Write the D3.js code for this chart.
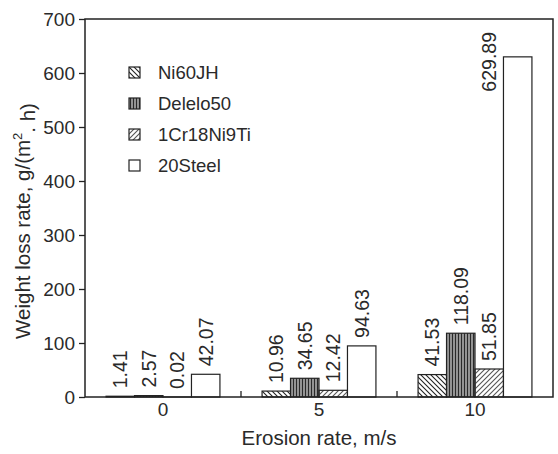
<!DOCTYPE html>
<html lang="en">
<head>
<meta charset="utf-8">
<title>Weight loss rate vs erosion rate</title>
<script src="https://d3js.org/d3.v7.min.js"></script>
<style>
    body { margin: 0; background: #fff; }
    text { font-family: "Liberation Sans", Arial, sans-serif; fill: #2a2a2a; }
</style>
</head>
<body>
<svg id="chart" width="558" height="454"></svg>
<script>
    // data
    var categories = ["0", "5", "10"];
    var seriesNames = ["Ni60JH", "Delelo50", "1Cr18Ni9Ti", "20Steel"];
    var ni60jh = [1.41, 10.96, 41.53];
    var delelo50 = [2.57, 34.65, 118.09];
    var cr18ni9ti = [0.02, 12.42, 51.85];
    var steel20 = [42.07, 94.63, 629.89];
    var yTicks = [0, 100, 200, 300, 400, 500, 600, 700];

    var seriesValues = [ni60jh, delelo50, cr18ni9ti, steel20];
    var fills = ["url(#hatchBack)", "url(#vlines)", "url(#hatchFwd)", "#fff"];

    var margin = {top: 19, right: 5, bottom: 57, left: 85},
        width = 558 - margin.left - margin.right,
        height = 454 - margin.top - margin.bottom;

    var svg = d3.select("#chart");

    // fill patterns
    var defs = svg.append("defs");
    defs.append("pattern")
        .attr("id", "hatchBack")
        .attr("patternUnits", "userSpaceOnUse")
        .attr("width", 5).attr("height", 5)
      .append("path")
        .attr("d", "M0,0 L5,5 M-1,4 L1,6 M4,-1 L6,1")
        .attr("stroke", "#222").attr("stroke-width", 1.1);
    var vp = defs.append("pattern")
        .attr("id", "vlines")
        .attr("patternUnits", "userSpaceOnUse")
        .attr("width", 3).attr("height", 3);
    vp.append("rect").attr("width", 3).attr("height", 3).attr("fill", "#a0a0a0");
    vp.append("path").attr("d", "M1.5,0 L1.5,3").attr("stroke", "#2a2a2a").attr("stroke-width", 1.2);
    defs.append("pattern")
        .attr("id", "hatchFwd")
        .attr("patternUnits", "userSpaceOnUse")
        .attr("width", 5).attr("height", 5)
      .append("path")
        .attr("d", "M0,5 L5,0 M-1,1 L1,-1 M4,6 L6,4")
        .attr("stroke", "#555").attr("stroke-width", 1.1);

    var g = svg.append("g")
        .attr("transform", "translate(" + margin.left + "," + margin.top + ")");

    // scales
    var x0 = d3.scaleBand()
        .domain(categories)
        .range([0, width])
        .padding(0);
    var x1 = d3.scaleBand()
        .domain(seriesNames)
        .range([0, x0.bandwidth()])
        .paddingInner(0)
        .paddingOuter(0.74);
    var y = d3.scaleLinear()
        .domain([0, 700])
        .range([height, 0]);

    // Y axis
    var yAxis = g.append("g")
        .call(d3.axisLeft(y).tickValues(yTicks).tickSize(6).tickPadding(4));
    yAxis.select(".domain").remove();
    yAxis.selectAll("line").attr("stroke", "#222").attr("stroke-width", 1.3);
    yAxis.selectAll("text").style("font-size", "19px");

    // X axis labels
    var xAxis = g.append("g")
        .attr("transform", "translate(0," + height + ")")
        .call(d3.axisBottom(x0).tickSize(0).tickPadding(6));
    xAxis.select(".domain").remove();
    xAxis.selectAll("text").style("font-size", "19px");

    // inner ticks at the group boundaries
    g.selectAll(".sep")
        .data(categories.slice(1))
        .enter()
        .append("line")
        .attr("x1", function(d) { return x0(d); })
        .attr("x2", function(d) { return x0(d); })
        .attr("y1", height)
        .attr("y2", height - 6)
        .attr("stroke", "#222")
        .attr("stroke-width", 1.3);

    // bars
    var rows = [];
    categories.forEach(function(c, i) {
        seriesNames.forEach(function(s, j) {
            rows.push({cat: c, series: s, j: j, value: seriesValues[j][i]});
        });
    });

    g.selectAll(".bar")
        .data(rows)
        .enter()
        .append("rect")
        .attr("x", function(d) { return x0(d.cat) + x1(d.series); })
        .attr("y", function(d) { return y(d.value); })
        .attr("width", x1.bandwidth())
        .attr("height", function(d) { return height - y(d.value); })
        .attr("fill", function(d) { return fills[d.j]; })
        .attr("stroke", "#222")
        .attr("stroke-width", 1.2);

    // value labels (rotated); the tallest one doesn't fit, so it goes beside its bar
    var labelLen = 64;
    g.selectAll(".val")
        .data(rows)
        .enter()
        .append("text")
        .attr("transform", function(d) {
            var cx = x0(d.cat) + x1(d.series) + x1.bandwidth() / 2;
            var ty = y(d.value) - 8;
            if (ty - labelLen < 0) {
                cx -= x1.bandwidth();
                ty = 13;
            }
            return "translate(" + cx + "," + ty + ") rotate(-90)";
        })
        .attr("dy", "0.35em")
        .style("text-anchor", function(d) { return y(d.value) - 8 - labelLen < 0 ? "end" : "start"; })
        .style("font-size", "19.5px")
        .text(function(d) { return d.value.toFixed(2); });

    // frame
    g.append("rect")
        .attr("width", width)
        .attr("height", height)
        .attr("fill", "none")
        .attr("stroke", "#222")
        .attr("stroke-width", 1.5);

    // legend
    var legend = g.selectAll(".legend")
        .data(seriesNames)
        .enter()
        .append("g")
        .attr("transform", function(d, i) { return "translate(44," + (48 + i * 31) + ")"; });
    legend.append("rect")
        .attr("width", 11).attr("height", 11)
        .attr("fill", function(d, i) { return fills[i]; })
        .attr("stroke", "#222")
        .attr("stroke-width", 1.2);
    legend.append("text")
        .attr("x", 29)
        .attr("y", 5.5)
        .attr("dy", "0.35em")
        .style("font-size", "18.5px")
        .text(function(d) { return d; });

    // axis titles
    svg.append("text")
        .attr("x", margin.left + width / 2)
        .attr("y", 438)
        .attr("dy", "0.35em")
        .style("text-anchor", "middle")
        .style("font-size", "20.5px")
        .text("Erosion rate, m/s");

    var yTitle = svg.append("text")
        .attr("transform", "translate(23,221) rotate(-90)")
        .attr("dy", "0.35em")
        .style("text-anchor", "middle")
        .style("font-size", "20.5px");
    yTitle.append("tspan").text("Weight loss rate, g/(m");
    yTitle.append("tspan").attr("dy", "-0.6em").style("font-size", "13px").text("2");
    yTitle.append("tspan").attr("dy", "0.6em").text(". h)");
</script>
</body>
</html>
